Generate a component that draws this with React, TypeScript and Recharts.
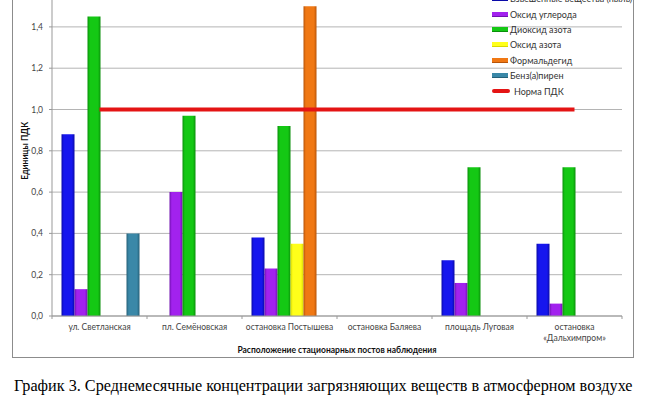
import { ComposedChart, Bar, Line, CartesianGrid, XAxis, YAxis, Legend } from "recharts";

const categories = [
  "ул. Светланская",
  "пл. Семёновская",
  "остановка Постышева",
  "остановка Баляева",
  "площадь Луговая",
  "остановка «Дальхимпром»",
];
const dust = [0.88, null, 0.38, null, 0.27, 0.35];
const carbonMonoxide = [0.13, 0.6, 0.23, null, 0.16, 0.06];
const nitrogenDioxide = [1.45, 0.97, 0.92, null, 0.72, 0.72];
const nitrogenOxide = [null, null, 0.35, null, null, null];
const formaldehyde = [null, null, 1.5, null, null, null];
const benzopyrene = [0.4, null, null, null, null, null];
const pdkNorm = [1, 1, 1, 1, 1, 1];
const yTicks = [0, 0.2, 0.4, 0.6, 0.8, 1.0, 1.2, 1.4];

const data = categories.map((name, i) => ({
  name,
  dust: dust[i],
  co: carbonMonoxide[i],
  no2: nitrogenDioxide[i],
  no: nitrogenOxide[i],
  ch2o: formaldehyde[i],
  bap: benzopyrene[i],
  norm: pdkNorm[i],
}));

const series = [
  { key: "dust", name: "Взвешенные вещества (пыль)", color: "#1616ee", edge: "#0a0aa8" },
  { key: "co", name: "Оксид углерода", color: "#a222ee", edge: "#7010b0" },
  { key: "no2", name: "Диоксид азота", color: "#14c814", edge: "#0a900a" },
  { key: "no", name: "Оксид азота", color: "#ffff1a", edge: "#d8d800" },
  { key: "ch2o", name: "Формальдегид", color: "#f07814", edge: "#b85408" },
  { key: "bap", name: "Бенз(а)пирен", color: "#3a88a8", edge: "#256078" },
];
const legendOrder = [...series.map((s) => s.key), "norm"];

const font = "Lato, 'Open Sans', sans-serif";

const CategoryTick = (props: any) => {
  const { x, y, payload, index, width, visibleTicksCount } = props;
  const half = width / visibleTicksCount / 2;
  const axisY = y - 5;
  const text: string = payload.value;
  const lines = text.length > 20 ? [text.slice(0, text.indexOf(" ")), text.slice(text.indexOf(" ") + 1)] : [text];
  return (
    <g>
      <line x1={x - half} x2={x - half} y1={axisY} y2={axisY + 3} stroke="#999" />
      {index === visibleTicksCount - 1 && (
        <line x1={x + half} x2={x + half} y1={axisY} y2={axisY + 3} stroke="#999" />
      )}
      <text x={x} y={axisY + 14} textAnchor="middle" fontSize={8.5} fill="#444" fontFamily={font}>
        {lines.map((l, i) => (
          <tspan key={i} x={x} dy={i === 0 ? 0 : 11}>
            {l}
          </tspan>
        ))}
      </text>
    </g>
  );
};

const LegendBox = ({ payload }: any) => {
  const items = [...(payload || [])].sort(
    (a: any, b: any) => legendOrder.indexOf(a.dataKey) - legendOrder.indexOf(b.dataKey)
  );
  return (
    <div style={{ fontFamily: font, fontSize: 9, color: "#333" }}>
      {items.map((p: any) => {
        const s = series.find((x) => x.key === p.dataKey);
        return (
          <div key={p.value} style={{ height: 15.4, display: "flex", alignItems: "center" }}>
            {p.type === "line" ? (
              <span style={{ width: 18, height: 4, background: p.color, borderRadius: 2, marginRight: 4 }} />
            ) : (
              <span
                style={{
                  width: 16,
                  height: 5,
                  background: s ? s.color : p.color,
                  boxShadow: s ? `inset 0 -1px 0 ${s.edge}` : undefined,
                  marginRight: 2,
                }}
              />
            )}
            <span>{p.value}</span>
          </div>
        );
      })}
    </div>
  );
};

export default function App() {
  return (
    <div
      style={{
        position: "absolute",
        left: 0,
        top: 0,
        width: 648,
        height: 399,
        overflow: "hidden",
        background: "#fff",
      }}
    >
      <div
        style={{
          position: "absolute",
          left: 12,
          top: -10,
          width: 620,
          height: 366,
          border: "1px solid #8c8c8c",
        }}
      />
      <div style={{ position: "absolute", left: 0, top: -40 }}>
        <ComposedChart
          width={648}
          height={400}
          data={data}
          margin={{ top: 25.6, right: 26, left: 0, bottom: 0 }}
          barCategoryGap="10%"
          barGap={0}
        >
          <defs>
            {series.map((s) => (
              <linearGradient key={s.key} id={`grad-${s.key}`} x1="0" y1="0" x2="1" y2="0">
                <stop offset="0%" stopColor={s.edge} />
                <stop offset="18%" stopColor={s.color} />
                <stop offset="80%" stopColor={s.color} />
                <stop offset="100%" stopColor={s.edge} />
              </linearGradient>
            ))}
          </defs>
          <CartesianGrid vertical={false} stroke="#b4b4b4" />
          <XAxis
            dataKey="name"
            height={44}
            tickLine={false}
            tickSize={3}
            tickMargin={2}
            stroke="#999"
            tick={<CategoryTick />}
            interval={0}
            label={{
              content: ({ viewBox }: any) => (
                <text
                  x={viewBox.x + viewBox.width / 2}
                  y={viewBox.y + 37}
                  textAnchor="middle"
                  fontSize={8.5}
                  fontWeight="bold"
                  fill="#111"
                  fontFamily={font}
                >
                  Расположение стационарных постов наблюдения
                </text>
              ),
            }}
          />
          <YAxis
            width={52}
            domain={[0, 1.6]}
            ticks={yTicks}
            interval={0}
            stroke="#999"
            tickSize={3}
            tickMargin={6}
            tick={{ fontSize: 8.5, fill: "#444", fontFamily: font }}
            tickFormatter={(v: number) => v.toFixed(1).replace(".", ",")}
            label={{
              content: ({ viewBox }: any) => (
                <text
                  x={25}
                  y={viewBox.y + viewBox.height / 2}
                  transform={`rotate(-90 25 ${viewBox.y + viewBox.height / 2})`}
                  textAnchor="middle"
                  dominantBaseline="central"
                  fontSize={8.5}
                  fontWeight="bold"
                  fill="#111"
                  fontFamily={font}
                >
                  Единицы ПДК
                </text>
              ),
            }}
          />
          <Legend
            layout="horizontal"
            verticalAlign="middle"
            align="center"
            content={<LegendBox />}
            wrapperStyle={{ left: 492, top: 31, width: 150 }}
          />
          {series.map((s) => (
            <Bar
              key={s.key}
              dataKey={s.key}
              name={s.name}
              fill={`url(#grad-${s.key})`}
              isAnimationActive={false}
            />
          ))}
          <Line
            dataKey="norm"
            name="Норма ПДК"
            type="linear"
            stroke="#e41414"
            strokeWidth={4}
            dot={false}
            activeDot={false}
            legendType="line"
            isAnimationActive={false}
          />
        </ComposedChart>
      </div>
      <div
        style={{
          position: "absolute",
          left: 14,
          top: 377,
          fontFamily: "'Liberation Serif', 'Times New Roman', serif",
          fontSize: 16.2,
          color: "#000",
          whiteSpace: "nowrap",
        }}
      >
        График 3. Среднемесячные концентрации загрязняющих веществ в атмосферном воздухе
      </div>
    </div>
  );
}
